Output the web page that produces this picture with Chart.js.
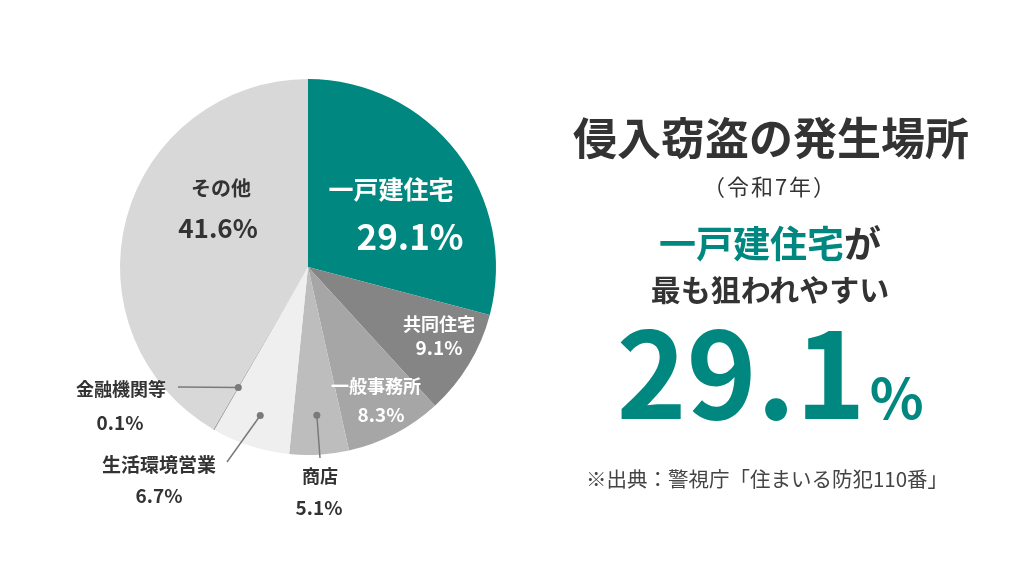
<!DOCTYPE html>
<html lang="ja">
<head>
<meta charset="utf-8">
<script src="https://cdn.jsdelivr.net/npm/chart.js@4"></script>
<style>
  html, body { margin: 0; padding: 0; background: #fff; }
  #wrap { position: relative; width: 1024px; height: 576px; overflow: hidden;
          font-family: "Noto Sans CJK JP", "Noto Sans", sans-serif; color: #333; }
  #pie { position: absolute; left: 0; top: 0; }
  .t { position: absolute; white-space: nowrap; transform: translate(-50%, -50%);
       font-weight: 700; line-height: 1; }
  .w { color: #fff; }
</style>
</head>
<body>
<div id="wrap">
  <canvas id="pie" width="1024" height="576"></canvas>

  <div class="t" style="left:771px;top:136px;font-size:44px;">侵入窃盗の発生場所</div>
  <div class="t" style="left:770px;top:185px;font-size:22px;font-weight:400;letter-spacing:2px;">（令和7年）</div>
  <div class="t" style="left:770px;top:242px;font-size:37px;"><span style="color:#00877f">一戸建住宅</span>が</div>
  <div class="t" style="left:770px;top:288px;font-size:30px;">最も狙われやすい</div>
  <div class="t" style="left:770px;top:367px;font-size:119px;color:#00877f;"><span id="bigNum"></span><span style="font-size:56px;margin-left:4px;">%</span></div>
  <div class="t" style="left:767px;top:478px;font-size:20.5px;font-weight:400;color:#444;">※出典：警視庁「住まいる防犯110番」</div>
</div>

<script>
// データ
var categories = ['一戸建住宅', '共同住宅', '一般事務所', '商店', '生活環境営業', '金融機関等', 'その他'];
var shares = [29.1, 9.1, 8.3, 5.1, 6.7, 0.1, 41.6];

// 色
var sliceColors = ['#00877f', '#858585', '#a6a6a6', '#bdbdbd', '#efefef', '#9a9a9a', '#d8d8d8'];

// ラベル位置 [名前x, 名前y, 数値x, 数値y, 名前サイズ, 数値サイズ, 白文字?]
var labelPos = [
  [391, 188, 410, 234, 25, 35, true],
  [439, 323, 439, 346, 18, 19, true],
  [376, 385, 381, 413, 18, 19, true],
  [320, 475, 319, 506, 18, 19, false],
  [159, 463, 159, 494, 19, 19, false],
  [121, 388, 120, 421, 18, 19, false],
  [221, 188, 218, 227, 20, 26, false]
];

// 引き出し線 [index, 点の半径比, 終点x, 終点y]
var leaders = [
  [3, 0.79, 320, 458],
  [4, 0.83, 227, 462],
  [5, 0.74, 178, 387]
];

var wrap = document.getElementById('wrap');
for (var i = 0; i < categories.length; i++) {
  var p = labelPos[i];
  var a = document.createElement('div');
  a.className = 't' + (p[6] ? ' w' : '');
  a.style.left = p[0] + 'px'; a.style.top = p[1] + 'px'; a.style.fontSize = p[4] + 'px';
  a.textContent = categories[i];
  wrap.appendChild(a);
  var b = document.createElement('div');
  b.className = 't' + (p[6] ? ' w' : '');
  b.style.left = p[2] + 'px'; b.style.top = p[3] + 'px'; b.style.fontSize = p[5] + 'px';
  b.textContent = shares[i].toFixed(1) + '%';
  wrap.appendChild(b);
}
document.getElementById('bigNum').textContent = shares[0].toFixed(1);

// 引き出し線を描く
var leaderPlugin = {
  id: 'leaders',
  afterDatasetsDraw: function(chart) {
    var ctx = chart.ctx;
    var arcs = chart.getDatasetMeta(0).data;
    ctx.save();
    ctx.strokeStyle = '#7a7a7a';
    ctx.fillStyle = '#7a7a7a';
    ctx.lineWidth = 1.5;
    leaders.forEach(function(l) {
      var arc = arcs[l[0]];
      var mid = (arc.startAngle + arc.endAngle) / 2;
      var r = arc.outerRadius * l[1];
      var x = arc.x + Math.cos(mid) * r;
      var y = arc.y + Math.sin(mid) * r;
      ctx.beginPath();
      ctx.moveTo(x, y);
      ctx.lineTo(l[2], l[3]);
      ctx.stroke();
      ctx.beginPath();
      ctx.arc(x, y, 3.5, 0, Math.PI * 2);
      ctx.fill();
    });
    ctx.restore();
  }
};

var chart = new Chart(document.getElementById('pie'), {
  type: 'pie',
  data: {
    labels: categories,
    datasets: [{
      data: shares,
      backgroundColor: sliceColors,
      borderWidth: 0
    }]
  },
  options: {
    responsive: false,
    animation: false,
    layout: { padding: { left: 120, top: 79, right: 528, bottom: 121 } },
    plugins: { legend: { display: false }, tooltip: { enabled: false } }
  },
  plugins: [leaderPlugin]
});
</script>
</body>
</html>
